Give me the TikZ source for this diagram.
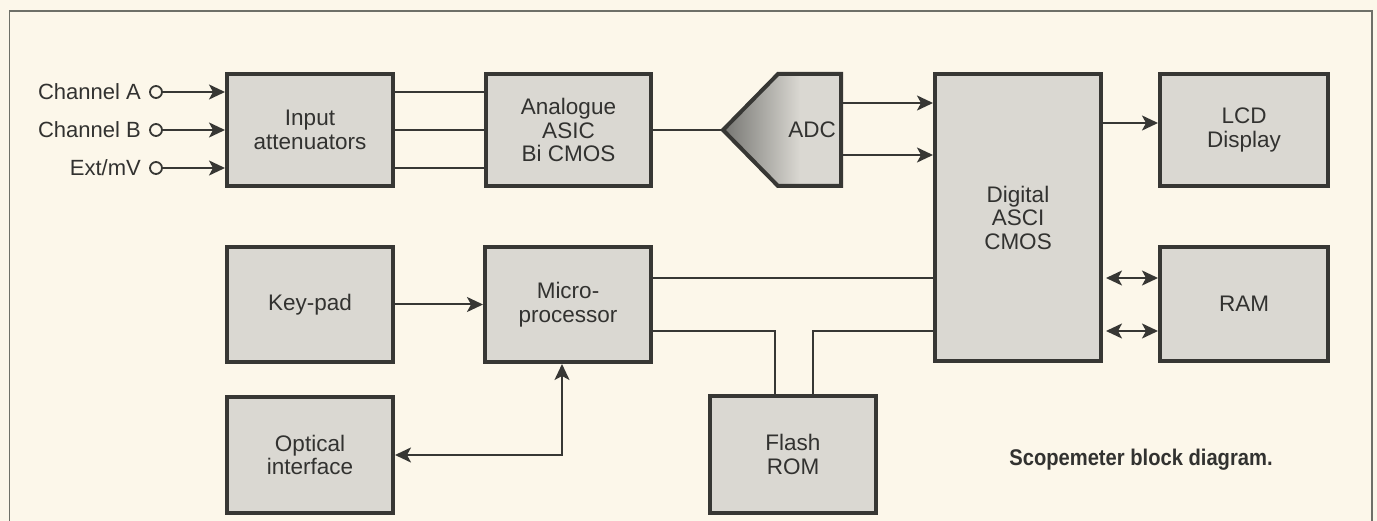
\documentclass[tikz,border=0pt]{standalone}
\usepackage{fontspec}
\setmainfont{Liberation Sans}
\usetikzlibrary{arrows.meta,calc}
\definecolor{paper}{RGB}{252,247,234}
\definecolor{framec}{RGB}{110,112,104}
\definecolor{boxfill}{RGB}{218,216,210}
\definecolor{boxline}{RGB}{55,55,52}
\definecolor{ink}{RGB}{50,50,48}
\definecolor{adcdark}{RGB}{120,120,116}
\tikzset{
  blk/.style={draw=boxline, line width=4pt, fill=boxfill, text=ink, align=center,
    font=\fontsize{22.5}{23.5}\selectfont, inner sep=0pt},
  wire/.style={draw=boxline, line width=2pt},
  tip/.tip={Stealth[length=16pt,width=15pt,inset=4pt]},
  arr/.style={wire, -tip},
  darr/.style={wire, tip-tip},
  lbl/.style={text=ink, font=\fontsize{22}{24}\selectfont, inner sep=0pt, anchor=east},
  port/.style={circle, draw=boxline, line width=1.8pt, fill=paper, minimum size=12pt, inner sep=0pt}
}
\begin{document}
\begin{tikzpicture}[x=1pt,y=-1pt]
\useasboundingbox (0,0) rectangle (1377,521);
\fill[paper] (0,0) rectangle (1377,521);
\draw[framec, line width=1.6pt] (9.5,521) -- (9.5,11) -- (1372,11) -- (1372,521);

% blocks
\node[blk, minimum width=166pt, minimum height=112pt] (inatt) at (310,130) {Input\\attenuators};
\node[blk, minimum width=165pt, minimum height=112pt] (analog) at (568.5,130) {Analogue\\ASIC\\Bi CMOS};
\node[blk, minimum width=166pt, minimum height=287pt] (digital) at (1018,217.5) {Digital\\ASCI\\CMOS};
\node[blk, minimum width=168pt, minimum height=112pt] (lcd) at (1244,130) {LCD\\Display};
\node[blk, minimum width=168pt, minimum height=114pt] (ram) at (1244,304) {RAM};
\node[blk, minimum width=166pt, minimum height=115pt] (keypad) at (310,304.5) {Key-pad};
\node[blk, minimum width=166pt, minimum height=115pt] (micro) at (568,304.5) {Micro-\\processor};
\node[blk, minimum width=166pt, minimum height=116pt] (optical) at (310,455) {Optical\\interface};
\node[blk, minimum width=166pt, minimum height=117pt] (flash) at (793,454.5) {Flash\\ROM};

% ADC
\fill[boxfill] (723,130) -- (778,74) -- (841,74) -- (841,186) -- (778,186) -- cycle;
\shade[left color=adcdark, right color=boxfill] (725,130) -- (778,76) -- (800,76) -- (800,184) -- (778,184) -- cycle;
\draw[boxline, line width=4pt, line join=miter] (723,130) -- (778,74) -- (841,74) -- (841,186) -- (778,186) -- cycle;
\node[text=ink, font=\fontsize{22.5}{24}\selectfont, inner sep=0pt] (adc) at (812,130) {ADC};
\coordinate (adcin) at (721,130);
\coordinate (adco1) at (843,103);
\coordinate (adco2) at (843,155);

% inputs
\node[port] (pA) at (156,92) {};
\node[port] (pB) at (156,130) {};
\node[port] (pE) at (156,168) {};
\node[lbl] (tA) at (141,92) {Channel A};
\node[lbl] (tB) at (141,130) {Channel B};
\node[lbl] (tE) at (141,168) {Ext/mV};
\draw[arr] (pA) -- (pA -| inatt.west);
\draw[arr] (pB) -- (pB -| inatt.west);
\draw[arr] (pE) -- (pE -| inatt.west);

% attenuators to analogue
\draw[wire] (pA -| inatt.east) -- (pA -| analog.west);
\draw[wire] (pB -| inatt.east) -- (pB -| analog.west);
\draw[wire] (pE -| inatt.east) -- (pE -| analog.west);

% analogue to ADC
\draw[wire] (analog.east) -- (adcin);
\draw[arr] (adco1) -- (adco1 -| digital.west);
\draw[arr] (adco2) -- (adco2 -| digital.west);

% digital to LCD and RAM
\coordinate (y123) at (0,123);
\coordinate (y278) at (0,278);
\coordinate (y331) at (0,331);
\draw[arr] (digital.east |- y123) -- (lcd.west |- y123);
\draw[darr, shorten <=3pt] (digital.east |- y278) -- (ram.west |- y278);
\draw[darr, shorten <=3pt] (digital.east |- y331) -- (ram.west |- y331);

% micro connections
\draw[wire] (micro.east |- y278) -- (digital.west |- y278);
\draw[wire] (micro.east |- y331) -| ([xshift=-18pt]flash.north);
\draw[wire] ([xshift=20pt]flash.north) |- (digital.west |- y331);
\draw[arr] (keypad.east) -- (micro.west);
\draw[darr] (optical.east) -| ([xshift=-6pt]micro.south);

% caption
\node[text=ink, font=\fontsize{21}{22}\selectfont\bfseries, inner sep=0pt, xscale=0.96, yscale=1.08] (cap) at (1141,460) {Scopemeter block diagram.};
\end{tikzpicture}
\end{document}
